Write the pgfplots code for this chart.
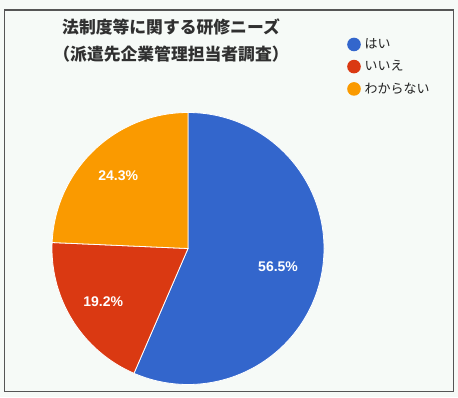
\documentclass[border=0pt]{standalone}
\usepackage{fontspec}
\setmainfont{Liberation Sans}
\newfontfamily\cjk{Noto Sans CJK JP}
\usepackage{pgfplots}
\usepackage{pgfplotstable}
\pgfplotsset{compat=1.18}
\definecolor{pieblue}{HTML}{3366CC}
\definecolor{piered}{HTML}{DA3912}
\definecolor{pieorange}{HTML}{FA9A00}
\definecolor{bgcol}{HTML}{F6FAF7}
\definecolor{bordercol}{HTML}{555555}
\definecolor{titlecol}{HTML}{303030}
\definecolor{legcol}{HTML}{222222}

\pgfplotstableread{
label value
yes 56.5
no 19.2
unknown 24.3
}\piedata

\begin{document}
\begin{tikzpicture}
\pgfplotstablegetelem{0}{value}\of\piedata \let\va\pgfplotsretval
\pgfplotstablegetelem{1}{value}\of\piedata \let\vb\pgfplotsretval
\pgfplotstablegetelem{2}{value}\of\piedata \let\vc\pgfplotsretval
\pgfmathsetmacro\aA{90-3.6*\va}
\pgfmathsetmacro\aB{\aA-3.6*\vb}
\pgfmathsetmacro\aC{\aB-3.6*\vc}
\pgfmathsetmacro\mA{(90+\aA)/2}
\pgfmathsetmacro\mB{(\aA+\aB)/2}
\pgfmathsetmacro\mC{(\aB+\aC)/2}
\begin{axis}[hide axis, x=1bp, y=1bp, xmin=0, xmax=458, ymin=0, ymax=397,
  scale only axis, clip=false,
  legend style={at={(axis cs:347,360)}, anchor=north west, draw=none, fill=none,
    font=\cjk\fontsize{13bp}{15bp}\selectfont, text=legcol, row sep=7.5bp,
    inner sep=0pt, nodes={inner sep=1.5bp}},
  legend cell align=left]
\fill[bgcol] (axis cs:0,0) rectangle (axis cs:458,397);
\draw[bordercol, line width=1.2bp] (axis cs:4.5,5.5) rectangle (axis cs:453.5,387);
\node[font=\cjk\bfseries\fontsize{16.8bp}{20bp}\selectfont, text=titlecol] at (axis cs:171,370) {法制度等に関する研修ニーズ};
\node[font=\cjk\bfseries\fontsize{16.8bp}{20bp}\selectfont, text=titlecol] at (axis cs:171,343) {（派遣先企業管理担当者調査）};
\filldraw[fill=pieblue, draw=white, line width=0.8bp] (axis cs:188,148.5) -- ([shift={(90:136bp)}]axis cs:188,148.5) arc[start angle=90, end angle=\aA, radius=136bp] -- cycle;
\filldraw[fill=piered, draw=white, line width=0.8bp] (axis cs:188,148.5) -- ([shift={(\aA:136bp)}]axis cs:188,148.5) arc[start angle=\aA, end angle=\aB, radius=136bp] -- cycle;
\filldraw[fill=pieorange, draw=white, line width=0.8bp] (axis cs:188,148.5) -- ([shift={(\aB:136bp)}]axis cs:188,148.5) arc[start angle=\aB, end angle=\aC, radius=136bp] -- cycle;
\node[text=white, font=\bfseries\fontsize{14bp}{16bp}\selectfont] at ([shift={(\mA:92bp)}]axis cs:188,148.5) {\va\%};
\node[text=white, font=\bfseries\fontsize{14bp}{16bp}\selectfont] at ([shift={(\mB:100bp)}]axis cs:188,148.5) {\vb\%};
\node[text=white, font=\bfseries\fontsize{14bp}{16bp}\selectfont] at ([shift={(\mC:101bp)}]axis cs:188,148.5) {\vc\%};
\addlegendimage{legend image code/.code={\path[fill=pieblue, draw=none] (6.8bp,0) circle (6.8bp); \path[draw=none] (16bp,0);}}
\addlegendentry{はい}
\addlegendimage{legend image code/.code={\path[fill=piered, draw=none] (6.8bp,0) circle (6.8bp); \path[draw=none] (16bp,0);}}
\addlegendentry{いいえ}
\addlegendimage{legend image code/.code={\path[fill=pieorange, draw=none] (6.8bp,0) circle (6.8bp); \path[draw=none] (16bp,0);}}
\addlegendentry{わからない}
\end{axis}
\end{tikzpicture}
\end{document}
